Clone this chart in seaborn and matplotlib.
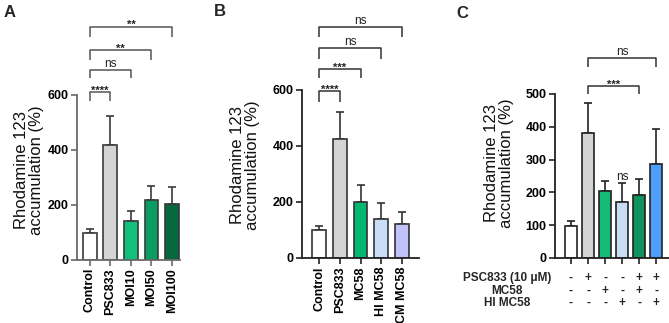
import numpy as np
import matplotlib
matplotlib.use("Agg")
import matplotlib.pyplot as plt
import matplotlib.transforms as mtransforms
import seaborn as sns

# ---------------- data ----------------
a_cats = ["Control", "PSC833", "MOI10", "MOI50", "MOI100"]
a_vals = [95, 415, 140, 215, 203]
a_err = [15, 107, 37, 53, 62]
a_colors = ["#ffffff", "#d4d4d4", "#12c07c", "#0b9c63", "#07683f"]

b_cats = ["Control", "PSC833", "MC58", "HI MC58", "CM MC58"]
b_vals = [100, 425, 200, 138, 123]
b_err = [15, 97, 60, 60, 40]
b_colors = ["#ffffff", "#d4d4d4", "#00b870", "#c9ddf7", "#c2c2fb"]

c_cats = ["Control", "PSC833", "MC58", "HI MC58", "PSC833+MC58", "PSC833+HI MC58"]
c_vals = [98, 382, 205, 170, 193, 288]
c_err = [15, 91, 31, 58, 48, 104]
c_colors = ["#ffffff", "#d4d4d4", "#14bc78", "#c8dcf4", "#0f925b", "#4d9ffa"]
c_rows = ["PSC833 (10 μM)", "MC58", "HI MC58"]
c_signs = [["-", "+", "-", "-", "+", "+"],
           ["-", "-", "+", "-", "+", "-"],
           ["-", "-", "-", "+", "-", "+"]]

a_yticks = [0, 200, 400, 600]
b_yticks = [0, 200, 400, 600]
c_yticks = [0, 100, 200, 300, 400, 500]

# brackets: (x1, x2, y, drop, label)
a_brackets = [(0, 1, 609, 33, "****"), (0, 2, 689, 30, "ns"),
              (0, 3, 762, 38, "**"), (0, 4, 846, 36, "**")]
b_brackets = [(0, 1, 596, 38, "****"), (0, 2, 675, 33, "***"),
              (0, 3, 750, 40, "ns"), (0, 4, 825, 36, "ns")]
c_brackets = [(1, 4, 524, 24, "***"), (1, 5, 610, 27, "ns")]

# ---------------- style ----------------
sns.set_theme(style="ticks")
plt.rcParams["font.family"] = ["Liberation Sans", "DejaVu Sans"]

W, H = 669, 323
fig = plt.figure(figsize=(W / 100, H / 100), dpi=100)


def axes_px(left, right, top, bottom):
    return fig.add_axes([left / W, 1 - bottom / H, (right - left) / W, (bottom - top) / H])


def draw_panel(ax, cats, vals, errs, colors, yticks, xlim, ylim, width, spine_col, edge_col):
    sns.barplot(x=cats, y=vals, hue=cats, palette=colors, legend=False, ax=ax,
                width=width, edgecolor=edge_col, linewidth=1.2, saturation=1,
                errorbar=None, order=cats, hue_order=cats)
    n = len(vals)
    ax.errorbar(np.arange(n), vals, yerr=[np.zeros(n), errs], fmt="none",
                ecolor=edge_col, elinewidth=1.2, capsize=2.6, capthick=1.2, zorder=0.5)
    ax.set_xlim(*xlim)
    ax.set_ylim(*ylim)
    ax.set_yticks(yticks)
    ax.set_yticklabels([str(t) for t in yticks], fontsize=9, fontweight="bold")
    ax.set_xlabel("")
    ax.set_ylabel("")
    sns.despine(ax=ax)
    for s in ["left", "bottom"]:
        ax.spines[s].set_linewidth(1.3)
        ax.spines[s].set_color(spine_col)
    ax.tick_params(axis="both", length=4.5, width=1.2, color=spine_col, pad=1.5,
                   labelcolor="black")
    ax.patch.set_alpha(0)


def draw_brackets(ax, brackets, col):
    for x1, x2, y, h, lab in brackets:
        ax.plot([x1, x1, x2, x2], [y - h, y, y, y - h], color=col, lw=1.1,
                clip_on=False, solid_capstyle="butt")
        if "*" in lab:
            tr = mtransforms.offset_copy(ax.transData, fig=fig, y=-1.0, units="points")
            ax.text((x1 + x2) / 2, y, lab, ha="center", va="baseline", fontsize=8,
                    fontweight="bold", transform=tr, color="#222222")
        else:
            tr = mtransforms.offset_copy(ax.transData, fig=fig, y=2.0, units="points")
            ax.text((x1 + x2) / 2, y, lab, ha="center", va="baseline", fontsize=8.5,
                    transform=tr, color="#222222")


# ---------------- panel A ----------------
axA = axes_px(77, 180, 94.6, 259.6)
draw_panel(axA, a_cats, a_vals, a_err, a_colors, a_yticks, (-0.63, 4.39), (0, 600),
           0.68, "#6a6a6a", "#3a3a3a")
axA.set_xticks(range(len(a_cats)))
axA.set_xticklabels(a_cats, rotation=90, fontsize=9, fontweight="bold")
draw_brackets(axA, a_brackets, "#555555")

# ---------------- panel B ----------------
axB = axes_px(302, 419, 90, 258)
draw_panel(axB, b_cats, b_vals, b_err, b_colors, b_yticks, (-0.85, 4.85), (0, 600),
           0.68, "#222222", "#333333")
axB.set_xticks(range(len(b_cats)))
axB.set_xticklabels(b_cats, rotation=90, fontsize=9, fontweight="bold")
draw_brackets(axB, b_brackets, "#333333")

# ---------------- panel C ----------------
axC = axes_px(555, 669, 94, 258)
draw_panel(axC, c_cats, c_vals, c_err, c_colors, c_yticks, (-0.94, 5.76), (0, 500),
           0.72, "#222222", "#222222")
axC.set_xticks(range(len(c_cats)))
axC.set_xticklabels([""] * len(c_cats))
draw_brackets(axC, c_brackets, "#333333")
trn = mtransforms.offset_copy(axC.transData, fig=fig, y=2.0, units="points")
axC.text(3, c_vals[3] + c_err[3], "ns", ha="center", va="baseline", fontsize=8.5,
         transform=trn, color="#222222")

xt = axC.get_xaxis_transform()
row_y = [-0.122, -0.201, -0.274]
for r, (lab, signs) in enumerate(zip(c_rows, c_signs)):
    axC.text(-3.76, row_y[r], lab, ha="center", va="center", fontsize=8.5,
             fontweight="bold", transform=xt, clip_on=False)
    for i, s in enumerate(signs):
        axC.text(i, row_y[r], s, ha="center", va="center", fontsize=8.5,
                 fontweight="bold", transform=xt, clip_on=False)

# ---------------- y labels ----------------
ylab = "Rhodamine 123\naccumulation (%)"
for xc, yc in [(29, 170), (245, 165), (499, 163)]:
    fig.text(xc / W, 1 - yc / H, ylab, rotation=90, ha="center", va="center",
             fontsize=12, linespacing=1.05, color="#111111")

# ---------------- panel letters ----------------
for lab, xl, yt in [("A", 4, 5), ("B", 214, 4), ("C", 456, 6)]:
    fig.text(xl / W, 1 - yt / H, lab, ha="left", va="top", fontsize=12,
             fontweight="bold")

fig.savefig("out.png", dpi=100)
